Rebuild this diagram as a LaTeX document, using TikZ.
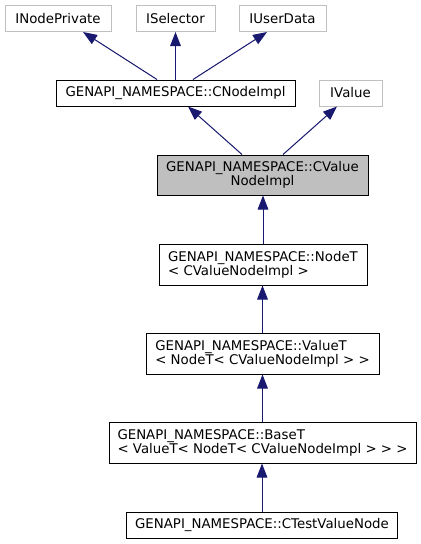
\documentclass[tikz,border=0pt]{standalone}
\usepackage{fontspec}
\setmainfont{DejaVu Sans}
\usetikzlibrary{arrows.meta, calc}
\definecolor{edgeblue}{HTML}{191970}
\definecolor{boxgrey}{HTML}{BFBFBF}
\tikzstyle{cls} = [draw=black, fill=white, rectangle, inner sep=0pt, minimum height=19.5pt, line width=0.75pt, font=\fontsize{10}{10.5}\selectfont, align=left]
\tikzstyle{ext} = [cls, draw=boxgrey]
\tikzstyle{cur} = [cls, fill=boxgrey, align=center]
\tikzstyle{inh} = [draw=edgeblue, line width=0.75pt, -{Triangle[length=10.5pt,width=8pt]}, fill=edgeblue]

\begin{document}
\begin{tikzpicture}[x=0.75pt,y=-0.75pt]
		\useasboundingbox (0,0) rectangle (421,544);
		
		% Clases base
		\node[ext, minimum width=79.5pt] (npriv) at (58,18.5) {INodePrivate};
		\node[ext, minimum width=59.25pt] (isel) at (175.5,18.5) {ISelector};
		\node[ext, minimum width=65.25pt] (iud) at (282.5,18.5) {IUserData};
		\node[cls, minimum width=179.25pt] (cnode) at (175.5,93) {GENAPI\_NAMESPACE::CNodeImpl};
		\node[ext, minimum width=47.25pt] (ival) at (350.5,93) {IValue};
		
		% Clase actual y derivadas
		\node[cur, minimum width=158.25pt, minimum height=30pt] (cval) at (262.5,175) {GENAPI\_NAMESPACE::CValue\\NodeImpl};
		\node[cls, minimum width=156pt, minimum height=30.75pt] (nodet) at (263,264.5) {GENAPI\_NAMESPACE::NodeT\\< CValueNodeImpl >};
		\node[cls, minimum width=174.75pt, minimum height=30.75pt] (valuet) at (262.5,353.5) {GENAPI\_NAMESPACE::ValueT\\< NodeT< CValueNodeImpl > >};
		\node[cls, minimum width=230.25pt, minimum height=30.75pt] (baset) at (262.5,442.5) {GENAPI\_NAMESPACE::BaseT\\< ValueT< NodeT< CValueNodeImpl > > >};
		\node[cls, minimum width=203.25pt] (ctest) at (262,525.5) {GENAPI\_NAMESPACE::CTestValueNode};
		
		% Flechas de herencia
		\path [inh] ($(cnode.north)+(-18.5,0)$) -- ($(npriv.south)+(25,0)$);
		\path [inh] (cnode.north) -- (isel.south);
		\path [inh] ($(cnode.north)+(17.5,0)$) -- ($(iud.south)+(-15.5,0)$);
		\path [inh] ($(cval.north)+(-20.5,0)$) -- ($(cnode.south)+(12.5,0)$);
		\path [inh] ($(cval.north)+(20.5,0)$) -- ($(ival.south)+(-13.5,0)$);
		\path [inh] (nodet.north) -- (nodet.north |- cval.south);
		\path [inh] (valuet.north) -- (valuet.north |- nodet.south);
		\path [inh] (baset.north) -- (baset.north |- valuet.south);
		\path [inh] (ctest.north) -- (ctest.north |- baset.south);
	\end{tikzpicture}
\end{document}
